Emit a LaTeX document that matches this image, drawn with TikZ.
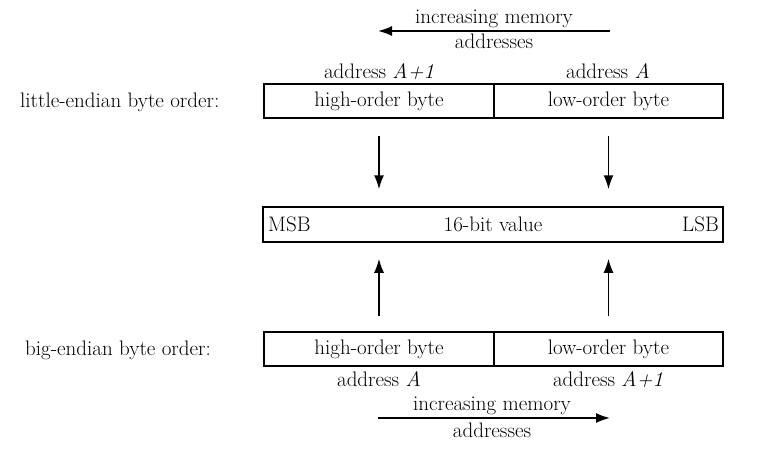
\documentclass[tikz,border=0pt]{standalone}
\usetikzlibrary{arrows.meta}
\begin{document}
\begin{tikzpicture}[x=1pt,y=-1pt,
  every node/.style={font=\fontsize{21}{24}\selectfont, inner sep=0pt},
  cell/.style={draw, line width=1.5pt, minimum height=34pt, anchor=center},
  arr/.style={line width=1.6pt, -{Latex[length=14pt,width=10pt]}},
  lbl/.style={anchor=base}]
\useasboundingbox (0,0) rectangle (772,448);
% top memory arrow
\coordinate (ta) at (610,31);
\coordinate (tb) at (378,31);
\draw[arr] (ta) -- (tb);
\node[lbl] (tm1) at (494,23) {increasing memory};
\node[lbl] (tm2) at (494,48) {addresses};
% little-endian
\node[cell, minimum width=230pt] (lhi) at (379,101) {high-order byte};
\node[cell, minimum width=229pt] (llo) at (608.5,101) {low-order byte};
\node[lbl] (la1) at (379,78) {address \textit{A+1}};
\node[lbl] (la0) at (608,78) {address \textit{A}};
\node[anchor=base west] (le) at (20,107) {little-endian byte order:};
% middle
\node[cell, minimum width=460pt, minimum height=35pt] (mid) at (493,224.5) {16-bit value};
\node[anchor=base west] (msb) at (268,231) {MSB};
\node[anchor=base east] (lsb) at (719,231) {LSB};
% big-endian
\node[cell, minimum width=230pt] (bhi) at (379,349) {high-order byte};
\node[cell, minimum width=229pt] (blo) at (608.5,349) {low-order byte};
\node[lbl] (ba0) at (379,386) {address \textit{A}};
\node[lbl] (ba1) at (608,386) {address \textit{A+1}};
\node[anchor=base west] (be) at (25,355) {big-endian byte order:};
% vertical arrows
\draw[arr, shorten <=17pt, shorten >=17pt] (lhi.south) -- (lhi.south |- mid.north);
\draw[arr, shorten <=17pt, shorten >=17pt] (llo.south) -- (llo.south |- mid.north);
\draw[arr, shorten <=15pt, shorten >=16pt] (bhi.north) -- (bhi.north |- mid.south);
\draw[arr, shorten <=15pt, shorten >=16pt] (blo.north) -- (blo.north |- mid.south);
% bottom memory arrow
\coordinate (ba) at (378,418);
\coordinate (bb) at (610,418);
\draw[arr] (ba) -- (bb);
\node[lbl] (bm1) at (492,410) {increasing memory};
\node[lbl] (bm2) at (492,437) {addresses};
\end{tikzpicture}
\end{document}
